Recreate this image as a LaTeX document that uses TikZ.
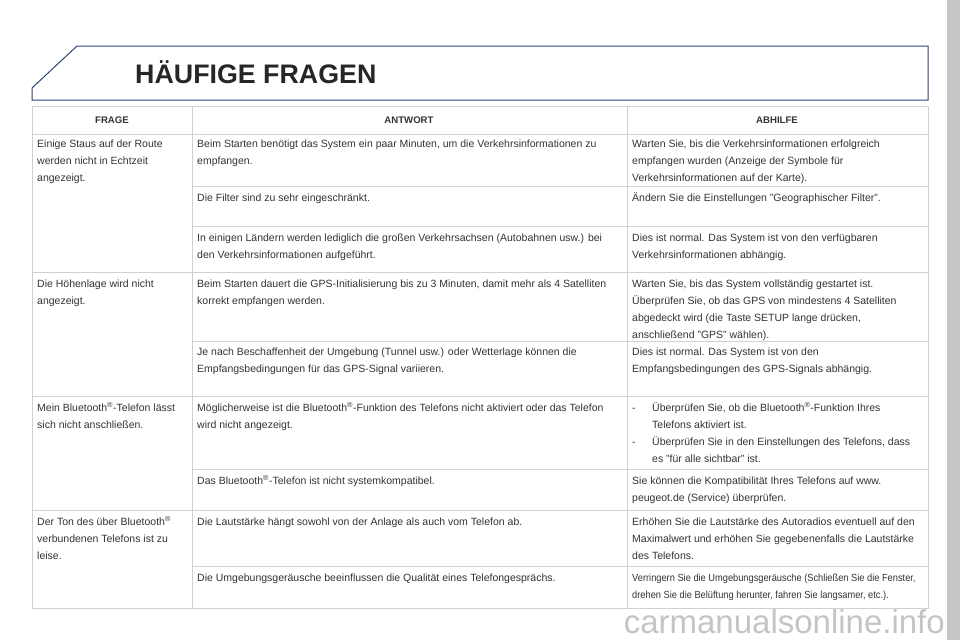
\documentclass[tikz,border=0pt]{standalone}
\usepackage{fontspec}
\setmainfont{Liberation Sans}
\newfontfamily\narrowf[FakeStretch=0.9]{Liberation Sans}
\definecolor{hdrblue}{HTML}{2A4477}
\definecolor{grid}{HTML}{D0D0D0}
\definecolor{txt}{HTML}{333333}
\definecolor{wm}{HTML}{C4C4C4}
\newcommand{\cst}{\strut}
\begin{document}
\begin{tikzpicture}[x=1pt,y=-1pt,
  cell/.style={anchor=north west,inner sep=0pt,align=left,text=txt,font=\fontsize{10.5}{17}\selectfont},
  head/.style={anchor=center,inner sep=0pt,text=txt,font=\bfseries\fontsize{9.6}{10}\selectfont},
  gl/.style={draw=grid,line width=0.8pt}]
\useasboundingbox (0,0) rectangle (960,640);
\fill[gray!45] (947,0) rectangle (960,640);
% title box
\draw[hdrblue,line width=1pt] (32,88) -- (77,46) -- (928,46) -- (928,100) -- (32,100) -- cycle;
\node[anchor=west,inner sep=0pt,font=\bfseries\fontsize{26.8}{30}\selectfont,text=black!85] (title) at (135,72) {HÄUFIGE FRAGEN};
% table grid
\draw[gl] (32,106) rectangle (928,608);
\draw[gl] (192,106) -- (192,608);
\draw[gl] (627,106) -- (627,608);
\foreach \y in {134,272,396,510} \draw[gl] (32,\y) -- (928,\y);
\foreach \y in {186,226,341,469,566} \draw[gl] (192,\y) -- (928,\y);
% header
\node[head] (h1) at (112,120) {FRAGE};
\node[head] (h2) at (409,120) {ANTWORT};
\node[head] (h3) at (777,120) {ABHILFE};
% row 1
\node[cell] (q1) at (37,135) {\cst Einige Staus auf der Route\\werden nicht in Echtzeit\\angezeigt.};
\node[cell] (a1) at (197,135) {\cst Beim Starten benötigt das System ein paar Minuten, um die Verkehrsinformationen zu\\empfangen.};
\node[cell] (r1) at (632,135) {\cst Warten Sie, bis die Verkehrsinformationen erfolgreich\\empfangen wurden (Anzeige der Symbole für\\Verkehrsinformationen auf der Karte).};
\node[cell] (a2) at (197,189) {\cst Die Filter sind zu sehr eingeschränkt.};
\node[cell] (r2) at (632,189) {\cst Ändern Sie die Einstellungen "Geographischer Filter".};
\node[cell] (a3) at (197,229) {\cst In einigen Ländern werden lediglich die großen Verkehrsachsen (Autobahnen usw.) bei\\den Verkehrsinformationen aufgeführt.};
\node[cell] (r3) at (632,229) {\cst Dies ist normal. Das System ist von den verfügbaren\\Verkehrsinformationen abhängig.};
% row 2
\node[cell] (q2) at (37,275) {\cst Die Höhenlage wird nicht\\angezeigt.};
\node[cell] (a4) at (197,275) {\cst Beim Starten dauert die GPS-Initialisierung bis zu 3 Minuten, damit mehr als 4 Satelliten\\korrekt empfangen werden.};
\node[cell] (r4) at (632,275) {\cst Warten Sie, bis das System vollständig gestartet ist.\\Überprüfen Sie, ob das GPS von mindestens 4 Satelliten\\abgedeckt wird (die Taste SETUP lange drücken,\\anschließend "GPS" wählen).};
\node[cell] (a5) at (197,343) {\cst Je nach Beschaffenheit der Umgebung (Tunnel usw.) oder Wetterlage können die\\Empfangsbedingungen für das GPS-Signal variieren.};
\node[cell] (r5) at (632,343) {\cst Dies ist normal. Das System ist von den\\Empfangsbedingungen des GPS-Signals abhängig.};
% row 3
\node[cell] (q3) at (37,399) {\cst Mein Bluetooth\textsuperscript{®}-Telefon lässt\\sich nicht anschließen.};
\node[cell] (a6) at (197,399) {\cst Möglicherweise ist die Bluetooth\textsuperscript{®}-Funktion des Telefons nicht aktiviert oder das Telefon\\wird nicht angezeigt.};
\node[cell] (r6d) at (632,399) {\cst -\\\cst\\\cst -};
\node[cell] (r6) at (652,399) {\cst Überprüfen Sie, ob die Bluetooth\textsuperscript{®}-Funktion Ihres\\Telefons aktiviert ist.\\Überprüfen Sie in den Einstellungen des Telefons, dass\\es "für alle sichtbar" ist.};
\node[cell] (a7) at (197,472) {\cst Das Bluetooth\textsuperscript{®}-Telefon ist nicht systemkompatibel.};
\node[cell] (r7) at (632,472) {\cst Sie können die Kompatibilität Ihres Telefons auf www.\\peugeot.de (Service) überprüfen.};
% row 4
\node[cell] (q4) at (37,513) {\cst Der Ton des über Bluetooth\textsuperscript{®}\\verbundenen Telefons ist zu\\leise.};
\node[cell] (a8) at (197,513) {\cst Die Lautstärke hängt sowohl von der Anlage als auch vom Telefon ab.};
\node[cell] (r8) at (632,513) {\cst Erhöhen Sie die Lautstärke des Autoradios eventuell auf den\\Maximalwert und erhöhen Sie gegebenenfalls die Lautstärke\\des Telefons.};
\node[cell] (a9) at (197,569) {\cst Die Umgebungsgeräusche beeinflussen die Qualität eines Telefongesprächs.};
\node[cell,font=\narrowf\fontsize{10.3}{17}\selectfont] (r9) at (632,569) {\cst Verringern Sie die Umgebungsgeräusche (Schließen Sie die Fenster,\\drehen Sie die Belüftung herunter, fahren Sie langsamer, etc.).};
% watermark
\node[anchor=east,inner sep=0pt,text=wm,font=\fontsize{33}{36}\selectfont] (wmk) at (945,622) {carmanualsonline.info};
\end{tikzpicture}
\end{document}
